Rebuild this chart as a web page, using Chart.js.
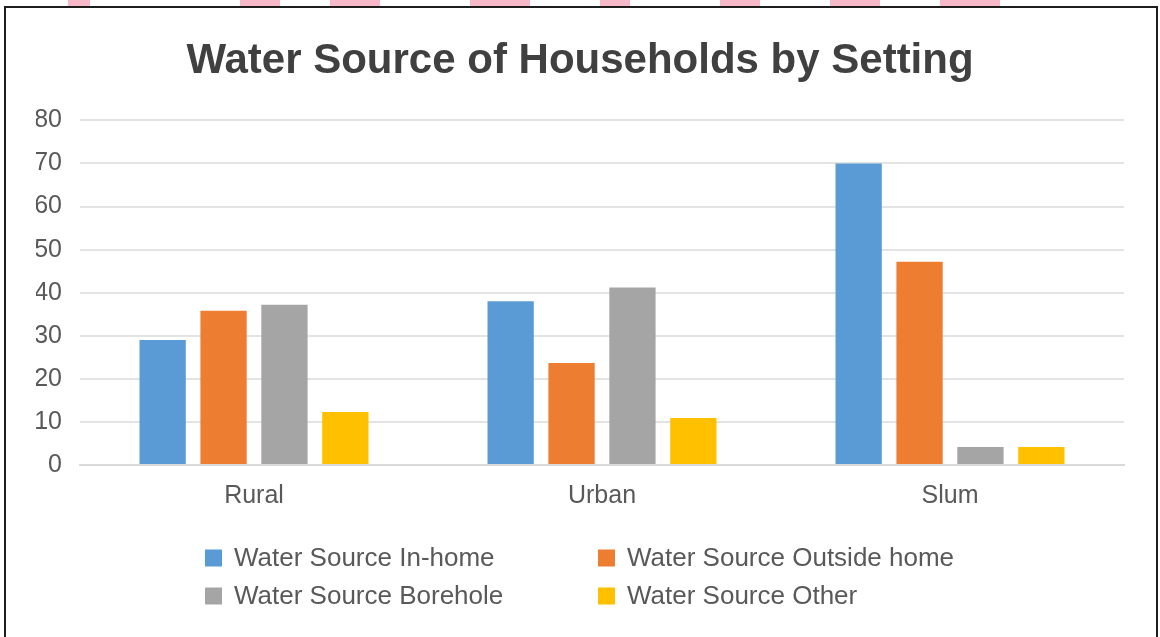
<!DOCTYPE html>
<html>
<head>
<meta charset="utf-8">
<script src="https://cdn.jsdelivr.net/npm/chart.js@4/dist/chart.umd.min.js"></script>
<style>
  html, body { margin: 0; padding: 0; background: #ffffff; width: 1160px; height: 637px; overflow: hidden; }
  #wrap { position: absolute; left: 0; top: 0; width: 1160px; height: 637px; }
  #frame { position: absolute; left: 4px; top: 6px; width: 1150px; height: 640px; border: 2px solid #1e1e1e; pointer-events: none; }
  .wm { position: absolute; top: 0; height: 6px; background: #f7b8c8; }
</style>
</head>
<body>
<div id="wrap">
  <canvas id="c" width="1160" height="637"></canvas>
</div>
<div class="wm" style="left:68px;width:22px"></div>
<div class="wm" style="left:240px;width:40px"></div>
<div class="wm" style="left:330px;width:50px"></div>
<div class="wm" style="left:470px;width:60px"></div>
<div class="wm" style="left:600px;width:30px"></div>
<div class="wm" style="left:720px;width:40px"></div>
<div class="wm" style="left:830px;width:50px"></div>
<div class="wm" style="left:940px;width:60px"></div>
<div id="frame"></div>
<script>
const categories = ['Rural', 'Urban', 'Slum'];
const seriesNames = ['Water Source In-home', 'Water Source Outside home', 'Water Source Borehole', 'Water Source Other'];
const inHome = [29, 38, 70];
const outsideHome = [35.8, 23.7, 47.2];
const borehole = [37.2, 41.2, 4.2];
const other = [12.3, 10.9, 4.2];
const yMin = 0, yMax = 80, yStep = 10;
const titleText = 'Water Source of Households by Setting';

const colors = ['#5B9BD5', '#ED7D31', '#A5A5A5', '#FFC000'];
const FONT = "'Liberation Sans', Arial, Helvetica, sans-serif";

const legendPlugin = {
  id: 'gridLegend',
  afterDraw(chart) {
    const ctx = chart.ctx;
    const cols = [205, 598];
    const rows = [558, 596];
    const box = 17;
    ctx.save();
    ctx.font = '26px ' + FONT;
    ctx.textBaseline = 'middle';
    ctx.textAlign = 'left';
    chart.data.datasets.forEach((ds, i) => {
      const x = cols[i % 2];
      const y = rows[Math.floor(i / 2)];
      ctx.fillStyle = ds.backgroundColor;
      ctx.fillRect(x, y - box / 2, box, box);
      ctx.fillStyle = '#595959';
      ctx.fillText(ds.label, x + 29, y + 1);
    });
    ctx.restore();
  }
};

new Chart(document.getElementById('c'), {
  type: 'bar',
  data: {
    labels: categories,
    datasets: [
      { label: seriesNames[0], data: inHome, backgroundColor: colors[0] },
      { label: seriesNames[1], data: outsideHome, backgroundColor: colors[1] },
      { label: seriesNames[2], data: borehole, backgroundColor: colors[2] },
      { label: seriesNames[3], data: other, backgroundColor: colors[3] }
    ]
  },
  options: {
    responsive: false,
    animation: false,
    devicePixelRatio: 1,
    layout: { padding: { left: 36, right: 36, top: 10, bottom: 110 } },
    datasets: { bar: { categoryPercentage: 0.70, barPercentage: 0.76 } },
    plugins: {
      legend: { display: false },
      tooltip: { enabled: false },
      title: {
        display: true,
        text: titleText,
        color: '#404040',
        font: { family: FONT, size: 42, weight: 'bold' },
        padding: { top: 26, bottom: 34 }
      }
    },
    scales: {
      x: {
        grid: { display: false, drawTicks: false },
        border: { display: true, color: '#d9d9d9', width: 2 },
        ticks: { color: '#595959', font: { family: FONT, size: 25 }, padding: 16 }
      },
      y: {
        min: yMin, max: yMax,
        afterFit(scale) { scale.width = 44; },
        grid: { color: '#e3e3e3', lineWidth: 2, drawTicks: false },
        border: { display: false },
        ticks: { stepSize: yStep, color: '#595959', font: { family: FONT, size: 25 }, padding: 18 }
      }
    }
  },
  plugins: [legendPlugin]
});
</script>
</body>
</html>
